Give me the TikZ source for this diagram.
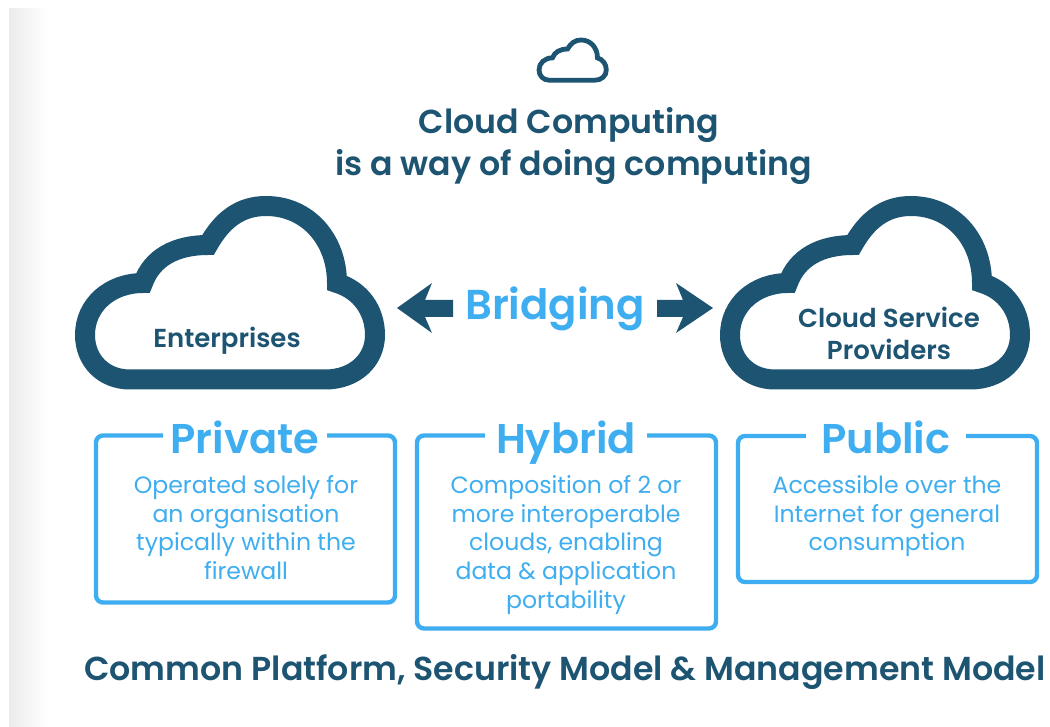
\documentclass[tikz,border=0pt]{standalone}
\usepackage{fontspec}
\setmainfont{Poppins}
\newfontfamily\headf{Poppins SemiBold}
\usetikzlibrary{shadings}
\definecolor{darkb}{HTML}{1C5472}
\definecolor{lightb}{HTML}{3FAEF0}
\definecolor{edgegray}{HTML}{EBEBEB}
\tikzset{
  cloudline/.style={draw=darkb,line join=miter,miter limit=10},
  framebox/.style={draw=lightb,line width=4.4pt,rounded corners=7pt,inner sep=0pt,fill=none},
  boxtitle/.style={fill=white,text=lightb,font=\fontsize{41.6}{41.6}\selectfont\headf,inner sep=0pt,text height=30pt,text depth=6pt,anchor=base},
  boxbody/.style={text=lightb,font=\fontsize{23.6}{28.7}\selectfont,align=center,anchor=north},
  headtext/.style={text=darkb,font=\fontsize{33.2}{33.2}\selectfont\headf,anchor=base},
  cloudtext/.style={text=darkb,font=\fontsize{26}{32}\selectfont\headf,align=center},
  fatarrow/.style={fill=darkb,draw=none},
}
\newcommand{\cloudpath}{(130,379.5) .. controls (103,379.5) and (85,360) .. (85,335)
  .. controls (85,305) and (110,283) .. (143,283)
  .. controls (152,258) and (175,245) .. (208,245)
  .. controls (222,220) and (240,206) .. (266,206)
  .. controls (308,206) and (337,240) .. (337,283)
  .. controls (360,290) and (375,310) .. (375,335)
  .. controls (375,360) and (355,379.5) .. (325,379.5) -- cycle}
\begin{document}
\begin{tikzpicture}[x=1pt,y=-1pt]
\useasboundingbox (0,0) rectangle (1050,727);
\fill[white] (0,0) rectangle (1050,727);
\shade[left color=edgegray,right color=white] (9,9) rectangle (48,727);
% small cloud
\draw[cloudline,line width=4.8pt,shift={(519.3,-7.8)},scale=0.232] \cloudpath;
\node[headtext] (title1) at (569,134) {Cloud Computing};
\node[headtext] (title2) at (573.5,176) {is a way of doing computing};
% big clouds
\draw[cloudline,line width=20pt] \cloudpath;
\draw[cloudline,line width=20pt,shift={(645,0)}] \cloudpath;
\node[cloudtext] (ent) at (227,341) {Enterprises};
\node[cloudtext] (csp) at (889,333) {Cloud Service\\Providers};
% bridging
\node[text=lightb,font=\fontsize{41.8}{41.8}\selectfont\headf,anchor=base] (br) at (555,320) {Bridging};
\fill[fatarrow] (397,308) -- (432,283) -- (425,300) -- (453,300) -- (453,317) -- (425,317) -- (432,333) -- cycle;
\fill[fatarrow] (713,308) -- (676,283) -- (683,300) -- (657,300) -- (657,317) -- (683,317) -- (676,333) -- cycle;
% boxes
\node[framebox,minimum width=299pt,minimum height=167pt] (b1) at (245.5,519) {};
\node[framebox,minimum width=299pt,minimum height=193pt] (b2) at (566.5,532) {};
\node[framebox,minimum width=299pt,minimum height=146pt] (b3) at (887.5,509) {};
\node[boxtitle,minimum width=164pt] (t1) at (245,453) {Private};
\node[boxtitle,minimum width=162pt] (t2) at (566,453) {Hybrid};
\node[boxtitle,minimum width=160pt] (t3) at (886,453) {Public};
\node[boxbody] (d1) at (246,472) {Operated solely for\\an organisation\\typically within the\\firewall};
\node[boxbody] (d2) at (566,472) {Composition of 2 or\\more interoperable\\clouds, enabling\\data \& application\\portability};
\node[boxbody] (d3) at (887,472) {Accessible over the\\Internet for general\\consumption};
\node[text=darkb,font=\fontsize{33.2}{33.2}\selectfont\headf,anchor=base] (foot) at (565,680) {Common Platform, Security Model \& Management Model};
\end{tikzpicture}
\end{document}
